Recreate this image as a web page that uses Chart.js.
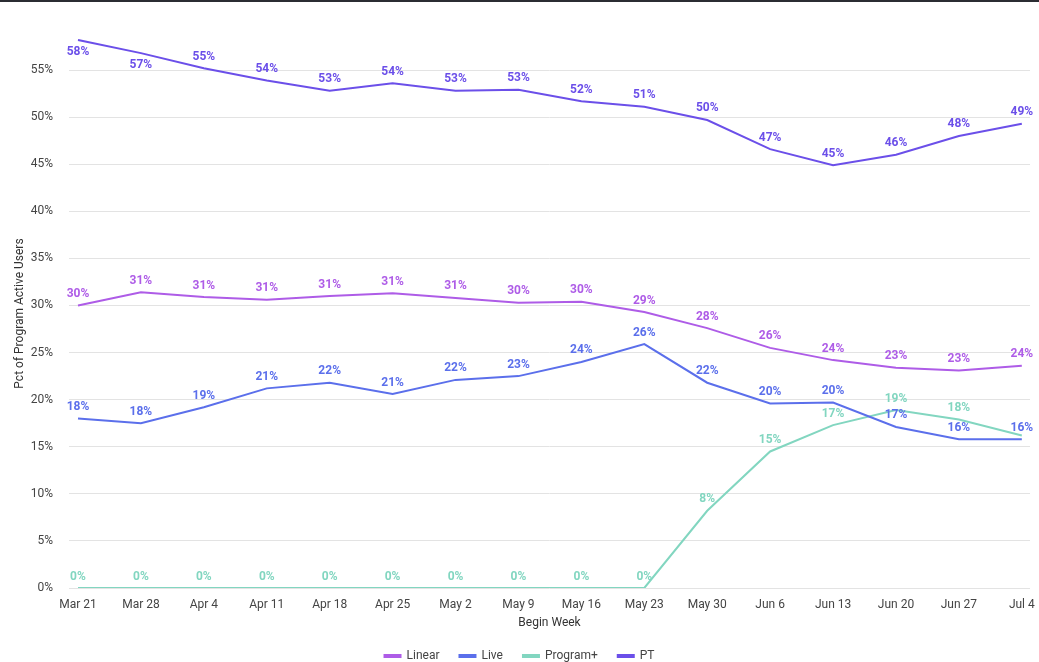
<!DOCTYPE html>
<html>
<head>
<meta charset="utf-8">
<script src="https://cdn.jsdelivr.net/npm/chart.js@4.4.1/dist/chart.umd.min.js"></script>
<style>
html,body{margin:0;padding:0;background:#fff;}
body{border-top:2px solid #2b2d33;box-sizing:border-box;width:1039px;height:662px;overflow:hidden;}
#wrap{position:relative;width:1039px;height:670px;}
</style>
</head>
<body>
<div id="wrap"><canvas id="c"></canvas></div>
<script>
const weeks = ["Mar 21","Mar 28","Apr 4","Apr 11","Apr 18","Apr 25","May 2","May 9","May 16","May 23","May 30","Jun 6","Jun 13","Jun 20","Jun 27","Jul 4"];
const linear = [30.0,31.4,30.9,30.6,31.0,31.3,30.8,30.3,30.4,29.3,27.6,25.5,24.2,23.4,23.1,23.6];
const live = [18.0,17.5,19.2,21.2,21.8,20.6,22.1,22.5,24.0,25.9,21.8,19.6,19.7,17.1,15.8,15.8];
const programPlus = [0,0,0,0,0,0,0,0,0,0,8.2,14.5,17.3,18.9,17.9,16.2];
const pt = [58.2,56.8,55.2,53.9,52.8,53.6,52.8,52.9,51.7,51.1,49.7,46.6,44.9,46.0,48.0,49.3];
const yTicks = [0,5,10,15,20,25,30,35,40,45,50,55];

const colors = {Linear:"#ae5ce7", Live:"#5b6feb", "Program+":"#82d6c0", PT:"#6b4fe9"};
const pts = arr => arr.map((v,i)=>({x:i,y:v}));

const labelPlugin = {
  id:'valLabels',
  afterDatasetsDraw(chart){
    const ctx = chart.ctx;
    const area = chart.chartArea;
    const placed = [];
    ctx.save();
    ctx.font = "bold 12px Roboto";
    ctx.textAlign = "center";
    ctx.textBaseline = "middle";
    chart.data.datasets.forEach((ds,di)=>{
      const meta = chart.getDatasetMeta(di);
      if (meta.hidden) return;
      ctx.fillStyle = ds.borderColor;
      meta.data.forEach((el,i)=>{
        const v = ds.data[i].y;
        const txt = Math.round(v)+"%";
        let y = el.y - 11.5;
        if (y - 7 < area.top) y = el.y + 12;
        const w = ctx.measureText(txt).width;
        const box = {l:el.x-w/2, r:el.x+w/2, t:y-6, b:y+6};
        const hit = placed.some(p => !(box.r < p.l || box.l > p.r || box.b < p.t || box.t > p.b));
        if (hit) return;
        placed.push(box);
        ctx.fillText(txt, el.x, y);
      });
    });
    ctx.restore();
  }
};

new Chart(document.getElementById('c'), {
  type:'line',
  data:{
    datasets:[
      {label:"Linear", data:pts(linear), borderColor:colors.Linear, backgroundColor:colors.Linear},
      {label:"Live", data:pts(live), borderColor:colors.Live, backgroundColor:colors.Live},
      {label:"Program+", data:pts(programPlus), borderColor:colors["Program+"], backgroundColor:colors["Program+"]},
      {label:"PT", data:pts(pt), borderColor:colors.PT, backgroundColor:colors.PT}
    ]
  },
  options:{
    responsive:true,
    maintainAspectRatio:false,
    animation:false,
    layout:{padding:{top:37,right:9,left:9,bottom:0}},
    elements:{line:{borderWidth:2,tension:0}, point:{radius:0,hoverRadius:0}},
    plugins:{
      legend:{
        position:'bottom',
        labels:{boxWidth:16,boxHeight:2,font:{family:"Roboto",size:12},color:"#444",padding:20}
      },
      tooltip:{enabled:false}
    },
    scales:{
      x:{
        type:'linear',
        min:-0.143, max:15.13,
        afterBuildTicks(s){ s.ticks = weeks.map((w,i)=>({value:i})); },
        afterFit(s){ s.height = 42; s.paddingLeft = 0; s.paddingRight = 0; },
        ticks:{callback:(v)=>weeks[v], font:{family:"Roboto",size:12}, color:"#444", maxRotation:0, autoSkip:false, padding:10},
        grid:{display:false, drawTicks:false},
        border:{display:false},
        title:{display:true,text:"Begin Week",font:{family:"Roboto",size:12},color:"#333",padding:{top:1,bottom:0}}
      },
      y:{
        min:0, max:58.3,
        afterBuildTicks(s){ s.ticks = yTicks.map(v=>({value:v})); },
        afterFit(s){ s.width = 60; },
        ticks:{callback:v=>v+"%", font:{family:"Roboto",size:12}, color:"#444", padding:16},
        grid:{color:"#e3e3e3", drawTicks:false, lineWidth:1},
        border:{display:false},
        title:{display:true,text:"Pct of Program Active Users",font:{family:"Roboto",size:12},color:"#333",padding:{top:4,bottom:4}}
      }
    }
  },
  plugins:[labelPlugin]
});
</script>
</body>
</html>
